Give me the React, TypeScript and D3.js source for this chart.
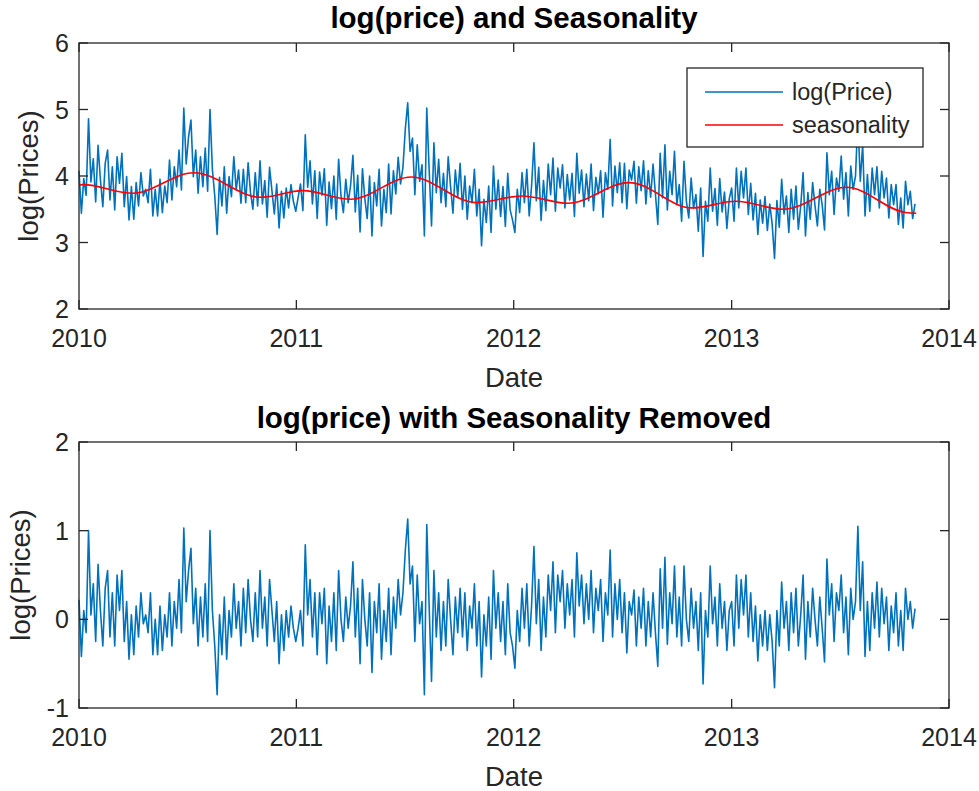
import React from "react";
import * as d3 from "d3";

// ---------- data ----------
const START_DATE = "2010-01-01";
const STEP_DAYS = 4;

// log(price) sampled every STEP_DAYS days
const logPrice2010 = [
  4.08, 3.44, 3.96, 3.71, 4.86, 3.91, 4.26, 3.61,
  4.46, 3.94, 3.54, 4.19, 4.39, 3.64, 4.14,
  3.49, 4.29, 3.89, 4.34, 3.54, 3.99, 3.34, 3.84,
  3.35, 3.90, 3.55, 4.05, 3.70, 3.80, 3.60,
  4.10, 3.40, 3.80, 3.40, 3.95, 3.45, 3.85, 3.60,
  4.24, 3.64, 4.14, 3.84, 4.39, 3.79, 5.02, 4.18,
  4.59, 4.84, 3.99, 4.39, 3.74, 4.29, 3.84,
  4.42, 3.77, 5.00, 4.10, 3.70, 3.12, 3.98, 3.55,
  4.14, 3.44, 3.99, 3.69, 4.29, 3.79, 4.09, 3.59,
  4.10, 3.60, 4.20, 3.75, 3.50, 4.05, 3.55,
  4.23, 3.58, 3.93, 3.38, 4.13, 3.78, 3.43, 3.88,
  3.22, 3.77, 3.37, 3.82, 3.52, 3.87, 3.62, 3.47,
];
const logPrice2011 = [
  3.68, 3.88, 3.48, 4.62, 3.83, 4.23, 3.58, 4.08,
  3.36, 4.06, 3.71, 4.11, 3.26, 3.91, 3.51,
  4.00, 3.35, 4.25, 3.70, 3.45, 3.95, 3.60, 3.85,
  4.31, 3.46, 4.01, 3.16, 4.11, 3.66, 3.36,
  4.00, 3.10, 3.90, 3.55, 4.10, 3.25, 3.80, 3.45,
  4.18, 3.43, 4.08, 3.73, 4.28, 3.88, 4.13, 4.71,
  5.10, 4.37, 4.57, 3.72, 4.47, 3.92, 4.17,
  3.10, 5.02, 4.10, 3.25, 4.50, 3.75, 4.25, 3.60,
  4.04, 3.54, 4.29, 3.84, 3.44, 4.09, 3.69, 4.19,
  3.50, 4.00, 3.35, 3.85, 3.60, 4.10, 3.40,
  3.80, 2.95, 3.65, 3.30, 3.85, 3.15, 4.15, 3.50,
  3.94, 3.39, 3.84, 3.24, 4.04, 3.49, 3.34,
];
const logPrice2012 = [
  3.15, 3.80, 3.45, 4.05, 3.60, 4.10, 3.40, 3.85,
  4.50, 3.63, 4.13, 3.33, 3.93, 3.48, 4.18,
  3.72, 4.27, 3.47, 4.12, 3.82, 4.17, 3.52, 4.02,
  3.64, 4.04, 3.39, 4.34, 3.74, 4.09, 3.54,
  4.03, 3.63, 4.18, 3.48, 3.98, 3.73, 4.08, 3.38,
  4.05, 3.80, 4.55, 3.55, 4.15, 3.75, 4.20, 3.60,
  4.19, 3.51, 4.09, 3.94, 4.22, 3.59, 4.14,
  3.78, 4.23, 3.58, 4.08, 3.68, 4.18, 3.73, 3.27,
  4.34, 3.67, 4.47, 3.49, 4.07, 3.72, 4.37, 3.57,
  3.87, 3.32, 4.22, 3.62, 3.37, 3.97, 3.52,
  3.72, 3.17, 3.82, 2.79, 3.62, 3.32, 4.12, 3.47,
  3.81, 3.26, 3.96, 3.46, 3.76, 3.21, 3.66,
];
const logPrice2013 = [
  3.82, 3.32, 4.12, 3.52, 4.07, 3.67, 4.12, 3.42,
  3.89, 3.34, 3.74, 3.12, 3.64, 3.29, 3.69,
  3.18, 3.58, 3.28, 2.76, 3.63, 3.23, 3.95, 3.43,
  3.70, 3.15, 3.80, 3.35, 3.85, 3.20, 3.55,
  4.05, 3.10, 3.75, 3.35, 3.90, 3.55, 3.25, 3.80,
  3.57, 3.19, 4.35, 3.72, 4.07, 3.42, 3.97, 3.77,
  4.30, 3.65, 4.05, 3.40, 4.15, 3.80, 4.00,
  4.87, 3.92, 4.47, 3.40, 4.02, 3.47, 4.12, 3.72,
  4.14, 3.52, 4.07, 3.67, 3.97, 3.37, 3.87, 3.57,
  3.87, 3.27, 3.67, 3.22, 3.92, 3.57, 3.77,
  3.36, 3.58,
];

// log(price) with seasonality removed, same sampling
const deseason2010 = [
  0.22, -0.42, 0.10, -0.15, 1.00, 0.05, 0.40, -0.25,
  0.62, 0.10, -0.30, 0.35, 0.55, -0.20, 0.30,
  -0.30, 0.50, 0.10, 0.55, -0.25, 0.20, -0.45, 0.05,
  -0.40, 0.15, -0.20, 0.30, -0.05, 0.05, -0.15,
  0.30, -0.40, 0.00, -0.40, 0.15, -0.35, 0.05, -0.20,
  0.30, -0.30, 0.20, -0.10, 0.45, -0.15, 1.03, 0.20,
  0.55, 0.80, -0.05, 0.35, -0.30, 0.25, -0.20,
  0.40, -0.25, 1.00, 0.10, -0.30, -0.85, 0.05, -0.40,
  0.25, -0.45, 0.10, -0.20, 0.40, -0.10, 0.20, -0.30,
  0.35, -0.15, 0.45, 0.00, -0.25, 0.30, -0.20,
  0.55, -0.10, 0.25, -0.30, 0.45, 0.10, -0.25, 0.20,
  -0.50, 0.05, -0.35, 0.10, -0.20, 0.15, -0.10, -0.25,
];
const deseason2011 = [
  -0.10, 0.10, -0.30, 0.84, 0.05, 0.45, -0.20, 0.30,
  -0.40, 0.30, -0.05, 0.35, -0.50, 0.15, -0.25,
  0.30, -0.35, 0.55, 0.00, -0.25, 0.25, -0.10, 0.15,
  0.65, -0.20, 0.35, -0.50, 0.45, 0.00, -0.30,
  0.30, -0.60, 0.20, -0.15, 0.40, -0.45, 0.10, -0.25,
  0.35, -0.40, 0.25, -0.10, 0.45, 0.05, 0.30, 0.78,
  1.13, 0.40, 0.60, -0.25, 0.50, -0.05, 0.20,
  -0.85, 1.07, 0.15, -0.70, 0.55, -0.20, 0.30, -0.35,
  0.20, -0.30, 0.45, 0.00, -0.40, 0.25, -0.15, 0.35,
  -0.20, 0.30, -0.35, 0.15, -0.10, 0.40, -0.30,
  0.20, -0.65, 0.05, -0.30, 0.25, -0.45, 0.55, -0.10,
  0.30, -0.25, 0.20, -0.40, 0.40, -0.15, -0.30,
];
const deseason2012 = [
  -0.55, 0.10, -0.25, 0.35, -0.10, 0.40, -0.30, 0.15,
  0.82, -0.05, 0.45, -0.35, 0.25, -0.20, 0.50,
  0.10, 0.65, -0.15, 0.50, 0.20, 0.55, -0.10, 0.40,
  0.05, 0.45, -0.20, 0.75, 0.15, 0.50, -0.05,
  0.40, 0.00, 0.55, -0.15, 0.35, 0.10, 0.45, -0.25,
  0.30, 0.05, 0.78, -0.20, 0.40, 0.00, 0.45, -0.15,
  0.30, -0.38, 0.20, 0.05, 0.33, -0.30, 0.25,
  -0.10, 0.35, -0.30, 0.20, -0.20, 0.30, -0.15, -0.53,
  0.57, -0.10, 0.70, -0.28, 0.30, -0.05, 0.60, -0.20,
  0.25, -0.30, 0.60, 0.00, -0.25, 0.35, -0.10,
  0.20, -0.35, 0.30, -0.73, 0.10, -0.20, 0.60, -0.05,
  0.25, -0.30, 0.40, -0.10, 0.20, -0.35, 0.10,
];
const deseason2013 = [
  0.20, -0.30, 0.50, -0.10, 0.45, 0.05, 0.50, -0.20,
  0.30, -0.25, 0.15, -0.47, 0.05, -0.30, 0.10,
  -0.35, 0.05, -0.25, -0.77, 0.10, -0.30, 0.42, -0.10,
  0.20, -0.35, 0.30, -0.15, 0.35, -0.30, 0.05,
  0.50, -0.45, 0.20, -0.20, 0.35, 0.00, -0.30, 0.25,
  -0.10, -0.48, 0.68, 0.05, 0.40, -0.25, 0.30, 0.10,
  0.50, -0.15, 0.25, -0.40, 0.35, 0.00, 0.20,
  1.05, 0.10, 0.65, -0.42, 0.20, -0.35, 0.30, -0.10,
  0.42, -0.20, 0.35, -0.05, 0.25, -0.35, 0.15, -0.15,
  0.30, -0.30, 0.10, -0.35, 0.35, 0.00, 0.20,
  -0.10, 0.12,
];

// seasonality curve, read at its turning points
const seasonDates = [
  "2010-01-01", "2010-01-08", "2010-04-01", "2010-07-13", "2010-11-02",
  "2011-01-12", "2011-04-02", "2011-07-13", "2011-10-30",
  "2012-01-15", "2012-04-01", "2012-07-13", "2012-10-26",
  "2013-01-08", "2013-03-29", "2013-07-13", "2013-10-20", "2013-11-07",
];
const seasonValues = [
  3.865, 3.87, 3.74, 4.05, 3.68,
  3.78, 3.65, 3.985, 3.60,
  3.70, 3.59, 3.90, 3.52,
  3.62, 3.50, 3.83, 3.45, 3.44,
];

const xTickYears = [2010, 2011, 2012, 2013, 2014];
const topYTicks = [2, 3, 4, 5, 6];
const bottomYTicks = [-1, 0, 1, 2];

const TOP_TITLE = "log(price) and Seasonality";
const BOTTOM_TITLE = "log(price) with Seasonality Removed";
const X_LABEL = "Date";
const Y_LABEL = "log(Prices)";
const LEGEND_LABELS = ["log(Price)", "seasonality"];

// ---------- layout ----------
const W = 979;
const H = 791;
const LEFT = 79;
const RIGHT = 949;
const TOP_AX = { top: 43, bottom: 309 };
const BOT_AX = { top: 442, bottom: 708 };
const BLUE = "#0072BD";
const RED = "#FF0000";
const AXIS = "#262626";
const FONT = "'Liberation Sans', Arial, Helvetica, sans-serif";
const TICK_LEN = 9;

const parse = d3.timeParse("%Y-%m-%d");
const start = parse(START_DATE) as Date;

const priceVals = [...logPrice2010, ...logPrice2011, ...logPrice2012, ...logPrice2013];
const deseasonVals = [...deseason2010, ...deseason2011, ...deseason2012, ...deseason2013];
const priceData = priceVals.map((v, i) => ({ d: d3.timeDay.offset(start, i * STEP_DAYS), v }));
const deseasonData = deseasonVals.map((v, i) => ({ d: d3.timeDay.offset(start, i * STEP_DAYS), v }));
const seasonData = seasonDates.map((s, i) => ({ d: parse(s) as Date, v: seasonValues[i] }));

const x = d3
  .scaleTime()
  .domain([new Date(2010, 0, 1), new Date(2014, 0, 1)])
  .range([LEFT, RIGHT]);
const yTop = d3.scaleLinear().domain([2, 6]).range([TOP_AX.bottom, TOP_AX.top]);
const yBot = d3.scaleLinear().domain([-1, 2]).range([BOT_AX.bottom, BOT_AX.top]);

type Pt = { d: Date; v: number };

function Axes({
  y,
  ticks,
  box,
  title,
  titleBaseline,
  yLabelX,
}: {
  y: d3.ScaleLinear<number, number>;
  ticks: number[];
  box: { top: number; bottom: number };
  title: string;
  titleBaseline: number;
  yLabelX: number;
}) {
  const midY = (box.top + box.bottom) / 2;
  const midX = (LEFT + RIGHT) / 2;
  return (
    <g>
      {xTickYears.map((yr) => {
        const xx = x(new Date(yr, 0, 1));
        return (
          <g key={"xt" + yr}>
            <line x1={xx} x2={xx} y1={box.bottom} y2={box.bottom - TICK_LEN} stroke={AXIS} strokeWidth={1.3} />
            <line x1={xx} x2={xx} y1={box.top} y2={box.top + TICK_LEN} stroke={AXIS} strokeWidth={1.3} />
            <text
              x={xx}
              y={box.bottom + 38}
              textAnchor="middle"
              fontFamily={FONT}
              fontSize={25}
              fill={AXIS}
            >
              {yr}
            </text>
          </g>
        );
      })}
      {ticks.map((t) => {
        const yy = y(t);
        return (
          <g key={"yt" + t}>
            <line x1={LEFT} x2={LEFT + TICK_LEN} y1={yy} y2={yy} stroke={AXIS} strokeWidth={1.3} />
            <line x1={RIGHT} x2={RIGHT - TICK_LEN} y1={yy} y2={yy} stroke={AXIS} strokeWidth={1.3} />
            <text
              x={LEFT - 10}
              y={yy}
              dy="0.36em"
              textAnchor="end"
              fontFamily={FONT}
              fontSize={25}
              fill={AXIS}
            >
              {t}
            </text>
          </g>
        );
      })}
      <text x={midX} y={box.bottom + 78} textAnchor="middle" fontFamily={FONT} fontSize={27.5} fill={AXIS}>
        {X_LABEL}
      </text>
      <text
        transform={`translate(${yLabelX},${midY}) rotate(-90)`}
        textAnchor="middle"
        fontFamily={FONT}
        fontSize={27.5}
        fill={AXIS}
      >
        {Y_LABEL}
      </text>
      <text
        x={midX}
        y={titleBaseline}
        textAnchor="middle"
        fontFamily={FONT}
        fontSize={29.5}
        fontWeight="bold"
        fill="#000"
      >
        {title}
      </text>
    </g>
  );
}

export default function App() {
  const lineTop = d3
    .line<Pt>()
    .x((p) => x(p.d))
    .y((p) => yTop(p.v));
  const lineBot = d3
    .line<Pt>()
    .x((p) => x(p.d))
    .y((p) => yBot(p.v));
  const lineSeason = d3
    .line<Pt>()
    .x((p) => x(p.d))
    .y((p) => yTop(p.v))
    .curve(d3.curveMonotoneX);

  const legX = 687;
  const legY = 68;
  const legW = 236;
  const legH = 79;

  return (
    <svg
      width={W}
      height={H}
      style={{ position: "absolute", left: 0, top: 0, background: "#fff" }}
    >
      <rect x={0} y={0} width={W} height={H} fill="#fff" />
      {/* top panel */}
      <path d={lineTop(priceData) || ""} fill="none" stroke={BLUE} strokeWidth={1.6} strokeLinejoin="round" />
      <path d={lineSeason(seasonData) || ""} fill="none" stroke={RED} strokeWidth={1.6} />
      <rect
        x={LEFT}
        y={TOP_AX.top}
        width={RIGHT - LEFT}
        height={TOP_AX.bottom - TOP_AX.top}
        fill="none"
        stroke={AXIS}
        strokeWidth={1.3}
      />
      <Axes y={yTop} ticks={topYTicks} box={TOP_AX} title={TOP_TITLE} titleBaseline={28} yLabelX={38} />

      {/* legend */}
      <g>
        <rect x={legX} y={legY} width={legW} height={legH} fill="#fff" stroke={AXIS} strokeWidth={1.3} />
        {[BLUE, RED].map((c, i) => {
          const ry = legY + 24 + i * 33;
          return (
            <g key={"lg" + i}>
              <line x1={legX + 18} x2={legX + 96} y1={ry} y2={ry} stroke={c} strokeWidth={1.6} />
              <text
                x={legX + 105}
                y={ry}
                dy="0.36em"
                fontFamily={FONT}
                fontSize={23.5}
                fill={AXIS}
              >
                {LEGEND_LABELS[i]}
              </text>
            </g>
          );
        })}
      </g>

      {/* bottom panel */}
      <path d={lineBot(deseasonData) || ""} fill="none" stroke={BLUE} strokeWidth={1.6} strokeLinejoin="round" />
      <rect
        x={LEFT}
        y={BOT_AX.top}
        width={RIGHT - LEFT}
        height={BOT_AX.bottom - BOT_AX.top}
        fill="none"
        stroke={AXIS}
        strokeWidth={1.3}
      />
      <Axes y={yBot} ticks={bottomYTicks} box={BOT_AX} title={BOTTOM_TITLE} titleBaseline={428} yLabelX={30} />
    </svg>
  );
}
